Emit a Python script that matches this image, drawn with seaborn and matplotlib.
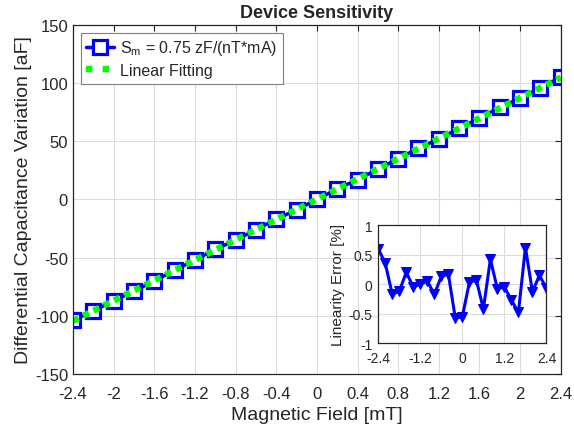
import numpy as np
import pandas as pd
import seaborn as sns
from matplotlib import pyplot as plt

field = [-2.4, -2.2, -2.0, -1.8, -1.6, -1.4, -1.2, -1.0, -0.8, -0.6, -0.4, -0.2, 0.0,
         0.2, 0.4, 0.6, 0.8, 1.0, 1.2, 1.4, 1.6, 1.8, 2.0, 2.2, 2.4]
capacitance = [-104, -96, -87, -79, -70, -61, -52, -43, -35, -26, -17, -9, 0,
               9, 17, 26, 35, 44, 52, 61, 70, 79, 87, 96, 105]
lin_error = [0.6, 0.35, -0.17, -0.12, 0.2, -0.05, 0.0, 0.05, -0.17, 0.13, 0.17, -0.58, -0.55,
             0.03, 0.07, -0.42, 0.42, -0.08, -0.05, -0.27, -0.48, 0.62, -0.13, 0.15, -0.07]

df = pd.DataFrame({"field": field, "cap": capacitance, "err": lin_error})
coef = np.polyfit(df.field, df.cap, 1)
df["fit"] = np.polyval(coef, df.field)

sns.set_theme(style="whitegrid")
plt.rcParams["font.family"] = ["Liberation Sans", "DejaVu Sans"]
plt.rcParams["mathtext.fontset"] = "custom"
plt.rcParams["mathtext.rm"] = "Liberation Sans"
plt.rcParams["mathtext.it"] = "Liberation Sans"
plt.rcParams["axes.unicode_minus"] = False

dark = "#262626"
fig = plt.figure(figsize=(5.74, 4.39), dpi=100)
ax = fig.add_axes([0.127, 0.146, 0.850, 0.795])

sns.lineplot(data=df, x="field", y="cap", ax=ax, color="#0000ff", lw=2.5,
             marker="s", markersize=10, markerfacecolor="white",
             markeredgecolor="#0000ff", markeredgewidth=2.3,
             label="S$_\\mathrm{m}$ = 0.75 zF/(nT*mA)")
sns.lineplot(data=df, x="field", y="fit", ax=ax, color="#00ff00", lw=4.6,
             linestyle=(0, (1, 0.8)), label="Linear Fitting")

ax.set_xlim(-2.4, 2.4)
ax.set_ylim(-150, 150)
ax.set_xticks(np.round(np.arange(-2.4, 2.41, 0.4), 1))
ax.set_xticklabels(["-2.4", "-2", "-1.6", "-1.2", "-0.8", "-0.4", "0", "0.4", "0.8",
                    "1.2", "1.6", "2", "2.4"])
ax.set_yticks(range(-150, 151, 50))
ax.set_xlabel("Magnetic Field [mT]", fontsize=14, color=dark, labelpad=4)
ax.set_ylabel("Differential Capacitance Variation [aF]", fontsize=14, color=dark,
              labelpad=2)
ax.set_title("Device Sensitivity", fontsize=13, fontweight="bold", pad=6)
ax.tick_params(labelsize=12, direction="in", length=4, top=True, right=True,
               colors=dark, width=0.8)
ax.tick_params(axis="x", pad=8.5)
ax.tick_params(axis="y", pad=3.5)
ax.grid(color="#dcdcdc", lw=0.8)
for s in ax.spines.values():
    s.set_color(dark)
    s.set_linewidth(0.9)
leg = ax.legend(loc="upper left", fontsize=11.5, frameon=True, fancybox=False,
                edgecolor="#7f7f7f", framealpha=1, handlelength=1.7,
                handletextpad=0.4, borderaxespad=0.5, borderpad=0.35,
                labelspacing=0.35)
leg.get_frame().set_linewidth(0.8)
leg.get_lines()[1].set_linestyle((0, (1, 1.6)))

ins = fig.add_axes([0.659, 0.216, 0.293, 0.269])
sns.lineplot(data=df, x="field", y="err", ax=ins, color="#0000ff", lw=2.2,
             marker="v", markersize=6.5, markeredgecolor="#0000ff")
ins.set_xlim(-2.4, 2.4)
ins.set_ylim(-1, 1)
ins.set_xticks([-2.4, -1.2, 0, 1.2, 2.4])
ins.set_xticklabels(["-2.4", "-1.2", "0", "1.2", "2.4"])
ins.set_yticks([-1, -0.5, 0, 0.5, 1])
ins.set_yticklabels(["-1", "-0.5", "0", "0.5", "1"])
ins.set_xlabel("")
ins.set_ylabel("Linearity Error [%]", fontsize=11, color=dark, labelpad=3)
ins.tick_params(labelsize=10, direction="in", length=3, colors=dark)
ins.tick_params(axis="x", pad=5.5)
ins.tick_params(axis="y", pad=4)
ins.grid(color="#dcdcdc", lw=0.8)
for s in ins.spines.values():
    s.set_color(dark)
    s.set_linewidth(0.9)

fig.savefig("out.png", dpi=100)
